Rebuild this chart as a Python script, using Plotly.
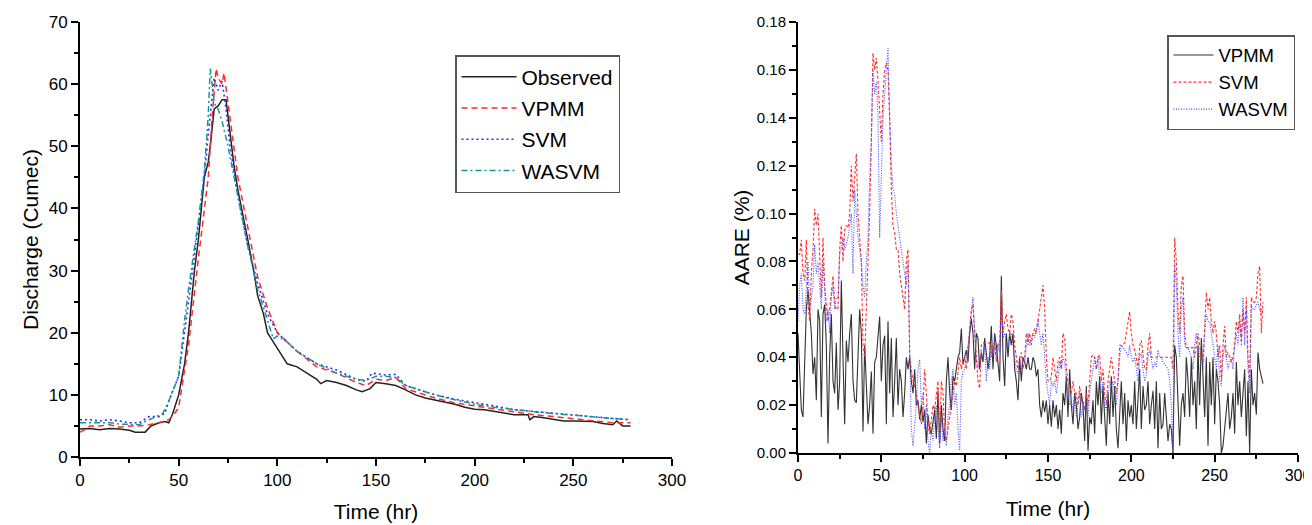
import plotly.graph_objects as go

# ---------------- Left chart: discharge hydrograph ----------------
obs_t = [0, 5, 10, 15, 20, 25, 28, 33, 36, 40, 43, 45, 47, 50, 53, 55, 58, 60, 63, 65, 66, 68, 70, 72, 74, 76, 78, 80, 82, 85, 88, 90, 93, 95, 98, 100, 103, 105, 110, 115, 120, 122, 125, 130, 135, 140, 143, 147, 150, 155, 160, 165, 170, 175, 180, 185, 190, 195, 200, 205, 210, 215, 220, 225, 227, 228, 230, 235, 240, 245, 250, 255, 260, 265, 270, 272, 275, 279]
obs_q = [4.5, 4.6, 4.4, 4.6, 4.5, 4.3, 4.0, 4.0, 5.0, 5.5, 5.7, 5.5, 7.0, 10.0, 15.0, 20.0, 30.0, 35.0, 45.0, 47.5, 50.0, 56.0, 56.5, 57.5, 57.5, 52.0, 47.0, 43.0, 40.0, 35.0, 30.0, 26.0, 23.0, 20.0, 18.5, 17.5, 16.0, 15.0, 14.5, 13.5, 12.5, 11.8, 12.3, 12.0, 11.5, 10.8, 10.5, 11.0, 12.0, 11.8, 11.5, 10.8, 10.0, 9.5, 9.2, 8.8, 8.5, 8.0, 7.7, 7.6, 7.3, 7.0, 6.8, 6.8, 6.8, 6.0, 6.5, 6.3, 6.0, 5.8, 5.8, 5.7, 5.7, 5.4, 5.2, 5.8, 5.0, 5.0]

vpmm_t = [0, 3, 5, 10, 15, 20, 25, 30, 35, 40, 45, 48, 50, 55, 60, 65, 67, 69, 70, 72, 73, 75, 78, 80, 85, 90, 95, 100, 105, 110, 120, 130, 140, 145, 150, 155, 160, 165, 170, 180, 190, 200, 210, 220, 230, 240, 250, 260, 270, 279]
vpmm_q = [4.0, 4.5, 5.0, 5.0, 5.2, 4.8, 5.0, 5.0, 5.2, 5.5, 6.0, 7.0, 8.0, 18.0, 32.0, 45.0, 55.0, 62.5, 61.0, 60.0, 61.8, 57.0, 50.0, 45.0, 37.0, 29.0, 24.0, 20.0, 18.5, 17.0, 14.5, 13.5, 12.0, 11.5, 12.5, 12.3, 12.8, 11.0, 10.5, 9.5, 8.7, 8.2, 7.7, 7.2, 6.8, 6.5, 6.2, 5.8, 5.5, 5.5]

svm_t = [0, 5, 10, 15, 20, 25, 30, 35, 40, 43, 45, 50, 55, 60, 63, 65, 67, 68, 70, 72, 74, 76, 80, 85, 90, 95, 100, 105, 110, 120, 130, 140, 145, 148, 155, 160, 165, 170, 180, 190, 200, 210, 220, 230, 240, 250, 260, 270, 279]
svm_q = [6.0, 6.0, 5.8, 6.0, 5.8, 5.5, 5.5, 6.5, 6.5, 7.0, 9.0, 13.0, 25.0, 37.0, 45.0, 52.0, 58.0, 61.0, 59.0, 60.5, 56.0, 50.0, 42.0, 34.0, 28.0, 23.0, 20.0, 18.5, 17.0, 15.0, 14.0, 12.5, 12.2, 13.5, 13.2, 13.3, 11.5, 11.0, 10.0, 9.3, 8.8, 8.2, 7.6, 7.3, 7.0, 6.7, 6.5, 6.2, 6.0]

wasvm_t = [0, 5, 10, 15, 20, 25, 30, 35, 42, 45, 50, 53, 55, 60, 63, 65, 66, 67, 68, 70, 72, 75, 80, 85, 90, 95, 98, 100, 105, 110, 120, 130, 140, 145, 150, 155, 160, 165, 170, 180, 190, 200, 210, 220, 230, 240, 250, 260, 270, 279]
wasvm_q = [5.5, 5.5, 5.4, 5.5, 5.3, 5.2, 5.2, 6.0, 7.0, 9.0, 13.0, 22.0, 27.0, 38.0, 46.0, 55.0, 62.5, 60.0, 57.0, 56.0, 54.0, 50.0, 42.0, 34.0, 27.0, 22.0, 19.0, 19.5, 18.5, 17.0, 15.0, 13.5, 12.5, 12.3, 13.0, 13.0, 12.8, 11.5, 11.0, 10.0, 9.2, 8.5, 8.0, 7.6, 7.3, 7.0, 6.7, 6.5, 6.2, 6.0]

# ---------------- Right chart: AARE per hour ----------------
hours = list(range(280))
aare_vpmm = [
    0.050, 0.035, 0.018, 0.015, 0.040, 0.060, 0.068, 0.060, 0.050, 0.033,
    0.040, 0.022, 0.060, 0.055, 0.015, 0.058, 0.062, 0.045, 0.004, 0.040,
    0.058, 0.030, 0.025, 0.046, 0.018, 0.030, 0.072, 0.040, 0.012, 0.047,
    0.038, 0.050, 0.058, 0.030, 0.022, 0.021, 0.045, 0.060, 0.050, 0.009,
    0.045, 0.030, 0.012, 0.020, 0.034, 0.008, 0.038, 0.040, 0.050, 0.057,
    0.030, 0.045, 0.049, 0.012, 0.055, 0.025, 0.048, 0.015, 0.030, 0.048,
    0.020, 0.035, 0.030, 0.015, 0.025, 0.040, 0.035, 0.040, 0.030, 0.025,
    0.035, 0.020, 0.022, 0.014, 0.020, 0.013, 0.018, 0.004, 0.016, 0.010,
    0.008, 0.014, 0.018, 0.006, 0.026, 0.004, 0.020, 0.010, 0.005, 0.030,
    0.040, 0.025, 0.018, 0.032, 0.030, 0.035, 0.040, 0.042, 0.052, 0.037,
    0.040, 0.043, 0.038, 0.050, 0.056, 0.050, 0.035, 0.050, 0.048, 0.035,
    0.042, 0.038, 0.048, 0.040, 0.035, 0.040, 0.053, 0.035, 0.050, 0.045,
    0.038, 0.030, 0.074, 0.040, 0.028, 0.050, 0.040, 0.050, 0.045, 0.050,
    0.035, 0.030, 0.022, 0.040, 0.030, 0.040, 0.038, 0.035, 0.040, 0.035,
    0.035, 0.040, 0.038, 0.032, 0.035, 0.020, 0.015, 0.022, 0.017, 0.022,
    0.012, 0.020, 0.011, 0.022, 0.015, 0.020, 0.010, 0.018, 0.008, 0.025,
    0.020, 0.032, 0.015, 0.035, 0.020, 0.012, 0.025, 0.020, 0.010, 0.015,
    0.025, 0.020, 0.005, 0.028, 0.001, 0.015, 0.012, 0.022, 0.008, 0.030,
    0.020, 0.032, 0.012, 0.028, 0.015, 0.003, 0.025, 0.012, 0.032, 0.015,
    0.028, 0.010, 0.002, 0.020, 0.030, 0.012, 0.025, 0.005, 0.022, 0.015,
    0.020, 0.012, 0.030, 0.010, 0.022, 0.035, 0.010, 0.028, 0.018, 0.020,
    0.030, 0.012, 0.020, 0.026, 0.010, 0.030, 0.002, 0.025, 0.010, 0.012,
    0.025, 0.015, 0.005, 0.012, 0.010, 0.000, 0.045, 0.040, 0.018, 0.003,
    0.020, 0.025, 0.015, 0.040, 0.030, 0.015, 0.040, 0.020, 0.030, 0.010,
    0.045, 0.020, 0.048, 0.030, 0.015, 0.040, 0.003, 0.038, 0.020, 0.040,
    0.012, 0.035, 0.030, 0.020, 0.000, 0.003, 0.010, 0.020, 0.025, 0.010,
    0.015, 0.025, 0.008, 0.038, 0.020, 0.030, 0.015, 0.025, 0.035, 0.007,
    0.030, 0.000, 0.035, 0.020, 0.025, 0.016, 0.042, 0.035, 0.032, 0.029,
]
aare_svm = [
    0.083, 0.083, 0.089, 0.075, 0.072, 0.089, 0.062, 0.055, 0.075, 0.085,
    0.102, 0.095, 0.100, 0.080, 0.065, 0.090, 0.070, 0.062, 0.055, 0.060,
    0.068, 0.074, 0.063, 0.060, 0.060, 0.085, 0.095, 0.080, 0.093, 0.095,
    0.094, 0.100, 0.120, 0.105, 0.115, 0.125, 0.100, 0.090, 0.080, 0.045,
    0.040, 0.060, 0.080, 0.100, 0.130, 0.167, 0.160, 0.165, 0.155, 0.140,
    0.130, 0.150, 0.160, 0.163, 0.160, 0.140, 0.110, 0.095, 0.092, 0.085,
    0.085, 0.075, 0.070, 0.065, 0.060, 0.080, 0.085, 0.040, 0.035, 0.030,
    0.028, 0.025, 0.020, 0.015, 0.012, 0.020, 0.035, 0.025, 0.012, 0.008,
    0.015, 0.020, 0.018, 0.025, 0.030, 0.005, 0.030, 0.025, 0.008, 0.005,
    0.010, 0.015, 0.020, 0.025, 0.030, 0.028, 0.035, 0.040, 0.035, 0.038,
    0.040, 0.035, 0.045, 0.052, 0.060, 0.062, 0.050, 0.040, 0.030, 0.027,
    0.045, 0.046, 0.046, 0.046, 0.046, 0.046, 0.040, 0.045, 0.046, 0.038,
    0.046, 0.045, 0.068, 0.050, 0.055, 0.058, 0.052, 0.050, 0.058, 0.055,
    0.045, 0.040, 0.035, 0.040, 0.042, 0.035, 0.040, 0.050, 0.045, 0.050,
    0.045, 0.050, 0.052, 0.050, 0.055, 0.060, 0.065, 0.070, 0.060, 0.040,
    0.030, 0.030, 0.032, 0.040, 0.035, 0.030, 0.038, 0.040, 0.035, 0.050,
    0.048, 0.035, 0.030, 0.028, 0.025, 0.030, 0.025, 0.025, 0.020, 0.028,
    0.022, 0.022, 0.018, 0.025, 0.020, 0.030, 0.040, 0.041, 0.040, 0.035,
    0.040, 0.041, 0.030, 0.035, 0.025, 0.020, 0.030, 0.035, 0.040, 0.035,
    0.030, 0.025, 0.030, 0.045, 0.045, 0.045, 0.046, 0.050, 0.055, 0.059,
    0.050, 0.045, 0.043, 0.040, 0.035, 0.045, 0.047, 0.040, 0.035, 0.035,
    0.045, 0.050, 0.040, 0.040, 0.040, 0.040, 0.040, 0.040, 0.040, 0.040,
    0.040, 0.040, 0.040, 0.040, 0.040, 0.035, 0.090, 0.080, 0.060, 0.050,
    0.070, 0.074, 0.050, 0.044, 0.044, 0.044, 0.044, 0.044, 0.040, 0.045,
    0.050, 0.045, 0.040, 0.038, 0.055, 0.067, 0.060, 0.065, 0.055, 0.050,
    0.055, 0.050, 0.040, 0.045, 0.030, 0.045, 0.053, 0.040, 0.042, 0.040,
    0.038, 0.040, 0.045, 0.055, 0.050, 0.058, 0.045, 0.060, 0.050, 0.065,
    0.040, 0.030, 0.065, 0.063, 0.063, 0.065, 0.075, 0.078, 0.050, 0.063,
]
aare_wasvm = [
    0.055, 0.070, 0.075, 0.060, 0.058, 0.068, 0.080, 0.060, 0.065, 0.070,
    0.087, 0.075, 0.080, 0.070, 0.060, 0.080, 0.065, 0.055, 0.060, 0.050,
    0.065, 0.070, 0.060, 0.065, 0.065, 0.083, 0.085, 0.090, 0.085, 0.088,
    0.090, 0.095, 0.100, 0.075, 0.110, 0.100, 0.090, 0.085, 0.080, 0.070,
    0.065, 0.080, 0.090, 0.115, 0.130, 0.160, 0.150, 0.155, 0.140, 0.090,
    0.120, 0.140, 0.150, 0.160, 0.169, 0.140, 0.120, 0.110, 0.108, 0.100,
    0.095, 0.090, 0.085, 0.080, 0.075, 0.070, 0.080, 0.040, 0.010, 0.003,
    0.010, 0.020, 0.035, 0.039, 0.020, 0.025, 0.010, 0.020, 0.005, 0.000,
    0.010, 0.005, 0.015, 0.020, 0.010, 0.002, 0.015, 0.005, 0.010, 0.003,
    0.015, 0.020, 0.030, 0.035, 0.020, 0.025, 0.010, 0.001, 0.030, 0.034,
    0.035, 0.040, 0.045, 0.050, 0.058, 0.065, 0.050, 0.040, 0.035, 0.040,
    0.040, 0.038, 0.045, 0.030, 0.040, 0.035, 0.045, 0.040, 0.048, 0.040,
    0.045, 0.042, 0.060, 0.048, 0.050, 0.045, 0.045, 0.050, 0.050, 0.045,
    0.040, 0.035, 0.033, 0.038, 0.035, 0.040, 0.038, 0.045, 0.050, 0.045,
    0.048, 0.050, 0.048, 0.052, 0.056, 0.050, 0.045, 0.050, 0.040, 0.030,
    0.025, 0.020, 0.030, 0.028, 0.030, 0.025, 0.030, 0.038, 0.035, 0.040,
    0.038, 0.030, 0.025, 0.020, 0.022, 0.018, 0.025, 0.015, 0.020, 0.025,
    0.015, 0.020, 0.018, 0.022, 0.015, 0.025, 0.030, 0.035, 0.040, 0.035,
    0.040, 0.030, 0.025, 0.030, 0.020, 0.018, 0.025, 0.030, 0.028, 0.030,
    0.025, 0.020, 0.030, 0.040, 0.045, 0.044, 0.043, 0.042, 0.040, 0.045,
    0.040, 0.038, 0.040, 0.035, 0.030, 0.040, 0.042, 0.035, 0.030, 0.033,
    0.040, 0.043, 0.038, 0.035, 0.038, 0.036, 0.043, 0.040, 0.040, 0.038,
    0.037, 0.036, 0.035, 0.030, 0.020, 0.000, 0.080, 0.070, 0.050, 0.040,
    0.060, 0.065, 0.045, 0.044, 0.044, 0.042, 0.040, 0.035, 0.045, 0.050,
    0.045, 0.040, 0.040, 0.035, 0.050, 0.058, 0.055, 0.055, 0.050, 0.045,
    0.040, 0.035, 0.045, 0.030, 0.028, 0.040, 0.045, 0.040, 0.035, 0.038,
    0.040, 0.035, 0.045, 0.050, 0.045, 0.055, 0.048, 0.065, 0.045, 0.060,
    0.035, 0.025, 0.062, 0.060, 0.060, 0.062, 0.063, 0.060, 0.058, 0.060,
]

FONT = "Liberation Sans, Arial, sans-serif"
OFF = 8                      # page body margin of the html page
W, H = 1312 - OFF, 525 - OFF
T = 22 - OFF                 # top of plot area (screen px 22)
B = H - (457 - OFF)          # bottom of plot area (screen px 457)
PLOT_H = H - T - B


def px_x(p):
    """screen pixel x -> paper fraction"""
    return (p - OFF) / W


def px_y(p):
    """screen pixel y -> paper fraction"""
    return (H - B - (p - OFF)) / PLOT_H


fig = go.Figure()

# left chart traces
fig.add_trace(go.Scatter(x=obs_t, y=obs_q, name="Observed", mode="lines", legendgroup="a",
                         line=dict(color="#222222", width=1.5), xaxis="x", yaxis="y", legend="legend"))
fig.add_trace(go.Scatter(x=vpmm_t, y=vpmm_q, name="VPMM", mode="lines", legendgroup="b",
                         line=dict(color="#ff2a2a", width=1.5, dash="6px,4px"), xaxis="x", yaxis="y", legend="legend"))
fig.add_trace(go.Scatter(x=svm_t, y=svm_q, name="SVM", mode="lines", legendgroup="c",
                         line=dict(color="#2a2aff", width=1.6, dash="2px,3px"), xaxis="x", yaxis="y", legend="legend"))
fig.add_trace(go.Scatter(x=wasvm_t, y=wasvm_q, name="WASVM", mode="lines", legendgroup="d",
                         line=dict(color="#139a8c", width=1.5, dash="6px,3px,2px,3px"), xaxis="x", yaxis="y", legend="legend"))

# right chart traces
fig.add_trace(go.Scatter(x=hours, y=aare_vpmm, name="VPMM", mode="lines",
                         line=dict(color="#333333", width=1.1), xaxis="x2", yaxis="y2", legend="legend2"))
fig.add_trace(go.Scatter(x=hours, y=aare_svm, name="SVM", mode="lines",
                         line=dict(color="#ff3030", width=1.1, dash="3px,2px"), xaxis="x2", yaxis="y2", legend="legend2"))
fig.add_trace(go.Scatter(x=hours, y=aare_wasvm, name="WASVM", mode="lines",
                         line=dict(color="#4a4aff", width=1.1, dash="1px,1.5px"), xaxis="x2", yaxis="y2", legend="legend2"))


def axis_style(tick_size, title_size):
    return dict(showline=True, linecolor="black", linewidth=2, ticks="outside", automargin=False,
                ticklen=7, tickwidth=1.5, tickcolor="black", showgrid=False, zeroline=False,
                tickfont=dict(family=FONT, size=tick_size, color="black"),
                title_font=dict(family=FONT, size=title_size, color="black"))


fig.update_layout(
    width=W, height=H,
    margin=dict(l=0, r=0, t=T, b=B, autoexpand=False),
    paper_bgcolor="white", plot_bgcolor="white",
    font=dict(family=FONT, color="black"),
    xaxis=dict(domain=[px_x(80), px_x(672)], range=[0, 300], dtick=50, anchor="y",
               minor=dict(ticks="outside", dtick=25, ticklen=4, tickcolor="black"),
               title=dict(text="Time (hr)", standoff=15), **axis_style(17, 21)),
    yaxis=dict(domain=[0, 1], range=[0, 70], dtick=10, anchor="x",
               minor=dict(ticks="outside", dtick=5, ticklen=4, tickcolor="black"),
               title=dict(text="Discharge (Cumec)", standoff=4), **axis_style(17, 21)),
    xaxis2=dict(domain=[px_x(798), px_x(1298)], range=[0, 300], dtick=50, anchor="y2",
                minor=dict(ticks="outside", dtick=25, ticklen=4, tickcolor="black"),
                title=dict(text="Time (hr)", standoff=18), **axis_style(16, 21)),
    yaxis2=dict(domain=[px_y(453), 1], range=[0, 0.18], dtick=0.02, tickformat=".2f",
                anchor="x2",
                minor=dict(ticks="outside", dtick=0.01, ticklen=4, tickcolor="black"),
                title=dict(text="AARE (%)", standoff=1), **axis_style(15, 21)),
    legend=dict(x=px_x(455), y=px_y(55),
                xanchor="left", yanchor="top", bgcolor="white", bordercolor="#555555",
                borderwidth=1.5, font=dict(family=FONT, size=21, color="black"),
                itemwidth=55, tracegroupgap=1),
    legend2=dict(x=px_x(1295), y=px_y(35),
                 xanchor="right", yanchor="top", bgcolor="white", bordercolor="#555555",
                 borderwidth=1.5, font=dict(family=FONT, size=18.5, color="black"),
                 itemwidth=40, tracegroupgap=0),
)

fig.write_html("out.html")
